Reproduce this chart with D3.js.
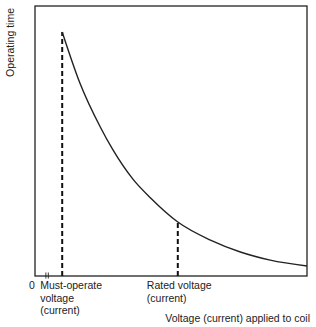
<!DOCTYPE html>
<html>
<head>
<meta charset="utf-8">
<script src="https://cdn.jsdelivr.net/npm/d3@7"></script>
<style>
  body { margin: 0; background: #fff; }
  text { font-family: "Liberation Sans", Arial, sans-serif; font-size: 10.5px; fill: #222; }
</style>
</head>
<body>
<div id="chart"></div>
<script>
// DATA (voltage in arbitrary units, operating time in arbitrary units)
const voltage = [1.0, 1.65, 2.4, 2.85, 3.6, 4.25, 5.25, 6.45, 7.55, 8.65, 10];
const opTime  = [90.4, 71.5, 55.2, 47.0, 35.9, 28.9, 20.0, 13.3, 8.9, 5.9, 3.7];
const mustOperate = 1.0, rated = 5.25;
const markLabels = [
  { v: 0, lines: ["0"], dx: -6 },
  { v: mustOperate, lines: ["Must-operate", "voltage", "(current)"], dx: -22 },
  { v: rated, lines: ["Rated voltage", "(current)"], dx: -31 }
];

const width = 316, height = 327,
  margin = { top: 6, right: 9, bottom: 51, left: 35 };

const svg = d3.select("#chart").append("svg")
  .attr("width", width).attr("height", height);

const xScale = d3.scaleLinear().domain([0, 10]).range([margin.left, width - margin.right]);
const yScale = d3.scaleLinear().domain([0, 100]).range([height - margin.bottom, margin.top]);

const data = voltage.map((v, i) => ({ v, t: opTime[i] }));
const tAt = v => opTime[voltage.indexOf(v)];

// frame
svg.append("rect")
  .attr("x", xScale(0)).attr("y", yScale(100))
  .attr("width", xScale(10) - xScale(0))
  .attr("height", yScale(0) - yScale(100))
  .attr("fill", "none").attr("stroke", "#222").attr("stroke-width", 1.3);

// axis break marks
[0.4, 0.49].forEach(v => {
  svg.append("line")
    .attr("x1", xScale(v)).attr("x2", xScale(v))
    .attr("y1", yScale(0) - 3.5).attr("y2", yScale(0) + 2.5)
    .attr("stroke", "#222").attr("stroke-width", 0.9);
});

// dashed guides
[mustOperate, rated].forEach(v => {
  svg.append("line")
    .attr("x1", xScale(v)).attr("x2", xScale(v))
    .attr("y1", yScale(0)).attr("y2", yScale(tAt(v)))
    .attr("stroke", "#111").attr("stroke-width", 2)
    .attr("stroke-dasharray", "5,3");
});

// curve
const line = d3.line().x(d => xScale(d.v)).y(d => yScale(d.t)).curve(d3.curveMonotoneX);
svg.append("path").datum(data)
  .attr("d", line)
  .attr("fill", "none").attr("stroke", "#222").attr("stroke-width", 1.4);

// labels under x axis
markLabels.forEach(m => {
  const t = svg.append("text")
    .attr("x", xScale(m.v) + m.dx).attr("y", yScale(0) + 13);
  m.lines.forEach((s, i) => {
    t.append("tspan").attr("x", xScale(m.v) + m.dx).attr("dy", i ? 12.5 : 0).text(s);
  });
});

svg.append("text")
  .attr("x", xScale(10) + 3).attr("y", height - 5)
  .attr("text-anchor", "end")
  .text("Voltage (current) applied to coil");

svg.append("text")
  .attr("transform", `translate(14, ${margin.top + 2}) rotate(-90)`)
  .attr("text-anchor", "end")
  .text("Operating time");
</script>
</body>
</html>
